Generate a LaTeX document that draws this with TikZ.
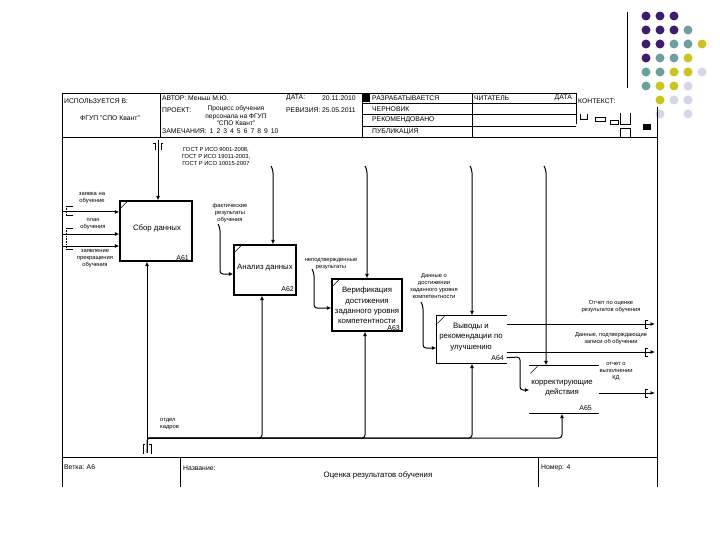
\documentclass[tikz,border=0pt]{standalone}
\usepackage{fontspec}
\setmainfont{Liberation Sans}
\usetikzlibrary{arrows.meta}
\newcommand\myfs[2]{\fontsize{#1}{#2}\selectfont}
\definecolor{dpurple}{HTML}{3E1D6E}
\definecolor{dteal}{HTML}{6E9E9E}
\definecolor{dyellow}{HTML}{C9C51E}
\definecolor{dlav}{HTML}{D3D6E8}
\begin{document}
\begin{tikzpicture}[x=1pt,y=-1pt,
  frame/.style={line width=0.9pt},
  thinl/.style={line width=0.6pt},
  box/.style={line width=1.3pt, inner sep=0pt},
  btxt/.style={font=\myfs{7.8}{10.3}, align=center, inner sep=0pt},
  num/.style={font=\myfs{7}{8}, inner sep=0pt, anchor=base east},
  lbl/.style={font=\myfs{5.8}{7}, align=center, inner sep=0pt},
  hdr/.style={font=\myfs{6.8}{8}, inner sep=0pt, anchor=west},
  conn/.style={line width=1pt, -{Latex[length=4.5pt,width=4pt]}, rounded corners=3pt},
  dot/.style={circle, inner sep=0pt, minimum size=9pt},
]
\useasboundingbox (0,0) rectangle (720,540);
\fill[white] (0,0) rectangle (720,540);

% decorative dots
\foreach \c/\r/\col in {1/1/dpurple,2/1/dpurple,3/1/dpurple,
  1/2/dpurple,2/2/dpurple,3/2/dpurple,4/2/dteal,
  1/3/dpurple,2/3/dpurple,3/3/dteal,4/3/dteal,5/3/dyellow,
  1/4/dpurple,2/4/dteal,3/4/dteal,4/4/dyellow,
  1/5/dteal,2/5/dteal,3/5/dyellow,4/5/dyellow,5/5/dlav,
  1/6/dteal,2/6/dyellow,3/6/dyellow,4/6/dlav,
  2/7/dyellow,3/7/dlav,4/7/dlav,
  2/8/dlav,4/8/dlav}
  \node[dot, fill=\col] (dot\c\r) at ({632+14*\c},{2+14*\r}) {};
\draw[frame] (627,12) -- (627,88);

% frame and header
\draw[frame] (62,93) -- (576,93);
\draw[frame] (62,93) -- (62,487);
\draw[frame] (657,107) -- (657,487);
\draw[frame] (62,137) -- (657,137);
\draw[frame] (160,93) -- (160,137);
\draw[frame] (362,93) -- (362,137);
\draw[frame] (472,93) -- (472,137);
\draw[frame] (576,93) -- (576,124);
\foreach \yy in {103,114,126} \draw[frame] (362,\yy) -- (576,\yy);
\fill (362,93) rectangle (370,102);

\node[hdr] (h1) at (64,101) {ИСПОЛЬЗУЕТСЯ В:};
\node[hdr, anchor=center] (h2) at (110,118) {ФГУП "СПО Квант"};
\node[hdr] (h3) at (162,98) {АВТОР: Меньш М.Ю.};
\node[hdr] (h4) at (162,110) {ПРОЕКТ:};
\node[font=\myfs{6.6}{7.4}, align=center, inner sep=0pt] (h5) at (236,116) {Процесс обучения\\персонала на ФГУП\\"СПО Квант"};
\node[hdr] (h6) at (162,131.5) {ЗАМЕЧАНИЯ:\, 1\, 2\, 3\, 4\, 5\, 6\, 7\, 8\, 9\, 10};
\node[hdr] (h7) at (286,98) {ДАТА:};
\node[hdr] (h8) at (322,98) {20.11.2010};
\node[hdr] (h9) at (286,110) {РЕВИЗИЯ:};
\node[hdr] (h10) at (322,110) {25.05.2011};
\node[hdr] (h11) at (372,98) {РАЗРАБАТЫВАЕТСЯ};
\node[hdr] (h12) at (372,109) {ЧЕРНОВИК};
\node[hdr] (h13) at (372,120) {РЕКОМЕНДОВАНО};
\node[hdr] (h14) at (372,132) {ПУБЛИКАЦИЯ};
\node[hdr] (h15) at (474,98) {ЧИТАТЕЛЬ};
\node[hdr, anchor=east] (h16) at (572,98) {ДАТА};
\node[hdr] (h17) at (578,101) {КОНТЕКСТ:};

% context icons
\draw[thinl] (580,114) -- (580,119) -- (587,119) -- (587,114);
\draw[thinl] (595,117) rectangle (605,121);
\draw[thinl] (610,120) rectangle (618,124);
\draw[thinl] (620,113) -- (620,124) -- (630,124) -- (630,113);
\draw[thinl] (620,137) -- (620,128) -- (630,128) -- (630,137);
\fill (643,124) rectangle (651,130);

% footer
\draw[frame] (62,457) -- (657,457);
\draw[frame] (180,457) -- (180,487);
\draw[frame] (538,457) -- (538,487);
\node[hdr] (f1) at (64,467) {Ветка: А6};
\node[hdr] (f2) at (183,468) {Название:};
\node[font=\myfs{7.8}{9}, inner sep=0pt] (f3) at (378,475) {Оценка результатов обучения};
\node[hdr] (f4) at (541,468) {Номер: 4};

% activity boxes
\node[box, draw, minimum width=72pt, minimum height=60pt] (a61) at (156,231) {};
\node[box, draw, minimum width=62pt, minimum height=50pt] (a62) at (265,270) {};
\node[box, draw, minimum width=70pt, minimum height=52pt] (a63) at (367,305) {};
\node[box, minimum width=69pt, minimum height=47pt] (a64) at (471.5,339.5) {};
\node[box, minimum width=68pt, minimum height=47pt] (a65) at (564,389.5) {};
\draw[line width=1.3pt] (a64.north east) -- (a64.north west) -- (a64.south west) -- (a64.south east);
\draw[line width=1.3pt] (a65.north west) -- (a65.north east);
\draw[line width=1.3pt] (a65.south west) -- (a65.south east);
\foreach \b in {a61,a62,a63,a64,a65}
  \draw[thinl] ([shift={(1,8)}]\b.north west) -- ++(7,-7);

\node[btxt] (t61) at (157,228) {Сбор данных};
\node[btxt] (t62) at (265,268) {Анализ данных};
\node[btxt] (t63) at (367,305.5) {Верификация\\достижения\\заданного уровня\\компетентности};
\node[btxt] (t64) at (471,337) {Выводы и\\рекомендации по\\улучшению};
\node[btxt] (t65) at (562,388.5) {корректирующие\\действия};
\node[num] (n61) at (189,260) {А61};
\node[num] (n62) at (294,291) {А62};
\node[num] (n63) at (400,330) {А63};
\node[num] (n64) at (504,360) {А64};
\node[num] (n65) at (592,410) {А65};

% controls
\coordinate (g1) at (158,140);
\draw[conn] (g1) -- (g1 |- a61.north);
\draw[thinl] (153,143) -- (155,143) -- (155,150);
\draw[thinl] (163,143) -- (161,143) -- (161,150);
\node[lbl] (lg) at (216,157) {ГОСТ Р ИСО 9001-2008,\\ГОСТ Р ИСО 19011-2003,\\ГОСТ Р ИСО 10015-2007};
\coordinate (g2) at (273,170);
\coordinate (g3) at (367,170);
\coordinate (g4) at (472,170);
\coordinate (g5) at (546,170);
\draw[conn] ([shift={(-2,-4)}]g2) -- (g2) -- (g2 |- a62.north);
\draw[conn] ([shift={(-2,-4)}]g3) -- (g3) -- (g3 |- a63.north);
\draw[conn] ([shift={(-2,-4)}]g4) -- (g4) -- (g4 |- a64.north);
\draw[conn] ([shift={(-2,-4)}]g5) -- (g5) -- (g5 |- a65.north);

% inputs to A61
\coordinate (i1) at (62,212);
\coordinate (i2) at (62,234);
\coordinate (i3) at (62,246);
\draw[conn] (i1) -- (i1 -| a61.west);
\draw[conn] (i2) -- (i2 -| a61.west);
\draw[conn] (i3) -- (i3 -| a61.west);
\draw[thinl] (73,206) -- (66,206);
\draw[thinl, densely dotted] (66,206) -- (66,215);
\draw[thinl] (66,215) -- (73,215);
\draw[thinl] (73,228) -- (66,228);
\draw[thinl, densely dotted] (66,228) -- (66,249);
\draw[thinl] (66,249) -- (73,249);
\node[lbl] (l1) at (92,198.5) {заявка на\\обучение};
\node[lbl] (l2) at (93,224.5) {план\\обучения};
\node[lbl] (l3) at (95,259) {заявление\\прекращения\\обучения};

% A61 result -> A62
\coordinate (r1) at (220,228);
\coordinate (r1b) at (220,274);
\draw[conn] ([shift={(-2,-4)}]r1) -- (r1) -- (r1b) -- (r1b -| a62.west);
\node[lbl] (l4) at (230,213.5) {фактические\\результаты\\обучения};

% A62 -> A63
\coordinate (r2) at (314,273);
\coordinate (r2b) at (314,308);
\draw[conn] ([shift={(-2,-4)}]r2) -- (r2) -- (r2b) -- (r2b -| a63.west);
\node[lbl] (l5) at (331,264.5) {неподтвержденные\\результаты};

% A63 -> A64
\coordinate (r3) at (423,306);
\coordinate (r3b) at (423,348);
\draw[conn] ([shift={(-2,-4)}]r3) -- (r3) -- (r3b) -- (r3b -| a64.west);
\node[lbl] (l6) at (434,286.5) {Данные о\\достижении\\заданного уровня\\компетентности};

% outputs
\coordinate (o1) at (655,324);
\coordinate (o2) at (655,352);
\coordinate (o4) at (655,393);
\draw[conn] (a64.east |- o1) -- (o1);
\draw[conn] (a64.east |- o2) -- (o2);
\draw[conn] (a65.east |- o4) -- (o4);
\foreach \yy in {324,352,393}
  \draw[thinl] (648,\yy-4) -- (645,\yy-4) -- (645,\yy+4) -- (648,\yy+4);
\node[lbl] (l7) at (611,306.5) {Отчет по оценке\\результатов обучения};
\node[lbl] (l8) at (611,339) {Данные, подтверждающие\\записи об обучении};
\node[lbl] (l9) at (616,372) {отчет о\\выполнении\\КД};

% A64 -> A65
\coordinate (k1) at (520,357);
\coordinate (k2) at (520,390);
\draw[conn] ([yshift=6pt]a64.south east) -- (k1) -- (k2) -- (k2 -| a65.west);

% mechanisms
\coordinate (m0) at (147,453);
\coordinate (m1) at (147,438);
\coordinate (m2) at (262,438);
\coordinate (m3) at (365,438);
\coordinate (m4) at (472,438);
\coordinate (m5) at (562,438);
\draw[conn] (m0) -- (m0 |- a61.south);
\draw[conn] (m0) -- (m1) -- (m2) -- (m2 |- a62.south);
\draw[conn] (m1) -- (m3) -- (m3 |- a63.south);
\draw[conn] (m1) -- (m4) -- (m4 |- a64.south);
\draw[conn] (m1) -- (m5) -- (m5 |- a65.south);
\draw[thinl] (143,454) -- (143,444) -- (145,444);
\draw[thinl] (151,454) -- (151,444) -- (149,444);
\node[lbl, align=left, anchor=west] (l10) at (160,424.5) {отдел\\кадров};
\end{tikzpicture}
\end{document}
